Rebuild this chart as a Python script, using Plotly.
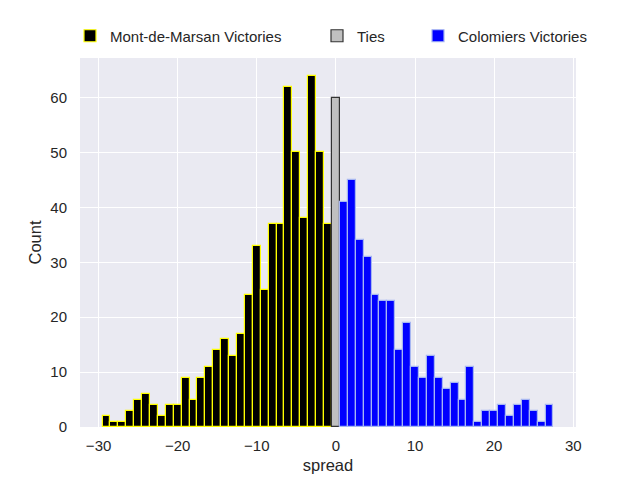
import plotly.graph_objects as go

# Histogram counts per integer spread (bins centred on integers, width 1)
mdm_spread = list(range(-29, 0))
mdm_count = [2, 1, 1, 3, 5, 6, 4, 2, 4, 4, 9, 5, 9, 11, 14, 16, 13, 17, 24, 33,
             25, 37, 37, 62, 50, 38, 64, 50, 37]
tie_spread = [0]
tie_count = [60]
col_spread = list(range(1, 28))
col_count = [41, 45, 34, 31, 24, 23, 23, 14, 19, 11, 9, 13, 9, 7, 8, 5, 11, 1,
             3, 3, 4, 2, 4, 5, 3, 1, 4]

x_ticks = [-30, -20, -10, 0, 10, 20, 30]
y_ticks = [0, 10, 20, 30, 40, 50, 60]

FONT = "Liberation Sans, Arial, sans-serif"
TXT = "#262626"

fig = go.Figure()
fig.add_trace(go.Bar(x=mdm_spread, y=mdm_count, width=1, name="Mont-de-Marsan Victories",
                     legend="legend",
                     marker=dict(color="black", line=dict(color="yellow", width=1.2))))
fig.add_trace(go.Bar(x=tie_spread, y=tie_count, width=1, name="Ties",
                     legend="legend2",
                     marker=dict(color="silver", line=dict(color="#333333", width=1.2))))
fig.add_trace(go.Bar(x=col_spread, y=col_count, width=1, name="Colomiers Victories",
                     legend="legend3",
                     marker=dict(color="blue", line=dict(color="#a6b6f2", width=1.2))))


def leg(text_left_px):
    return dict(orientation="h", x=(text_left_px - 40) / 640, xanchor="left", xref="container",
                y=1 - 36 / 480, yanchor="middle", yref="container",
                font=dict(size=15, color=TXT), bgcolor="rgba(0,0,0,0)", itemwidth=30)


fig.update_layout(
    width=640, height=480,
    margin=dict(l=80, r=64, t=58, b=53, autoexpand=False),
    barmode="overlay", bargap=0,
    plot_bgcolor="#EAEAF2", paper_bgcolor="white",
    font=dict(family=FONT, size=15, color=TXT),
    showlegend=True,
    legend=leg(110), legend2=leg(357), legend3=leg(458),
    xaxis=dict(range=[-32.35, 30.35], tickvals=x_ticks,
               ticktext=[str(v).replace("-", "\u2212") for v in x_ticks],
               showgrid=True, gridcolor="white", gridwidth=1.4, zeroline=False,
               showline=False, ticks="", automargin=False, ticklabelstandoff=8,
               title=dict(text="spread", font=dict(size=16.5), standoff=6),
               tickfont=dict(size=15)),
    yaxis=dict(range=[0, 67.2], tickvals=y_ticks,
               showgrid=True, gridcolor="white", gridwidth=1.4, zeroline=False,
               showline=False, ticks="", automargin=False, ticklabelstandoff=12,
               title=dict(text="Count", font=dict(size=16.5), standoff=4),
               tickfont=dict(size=15)),
)

fig.write_html("out.html", config={"displayModeBar": False},
               post_script="document.body.style.margin='0';document.body.style.padding='0';")
